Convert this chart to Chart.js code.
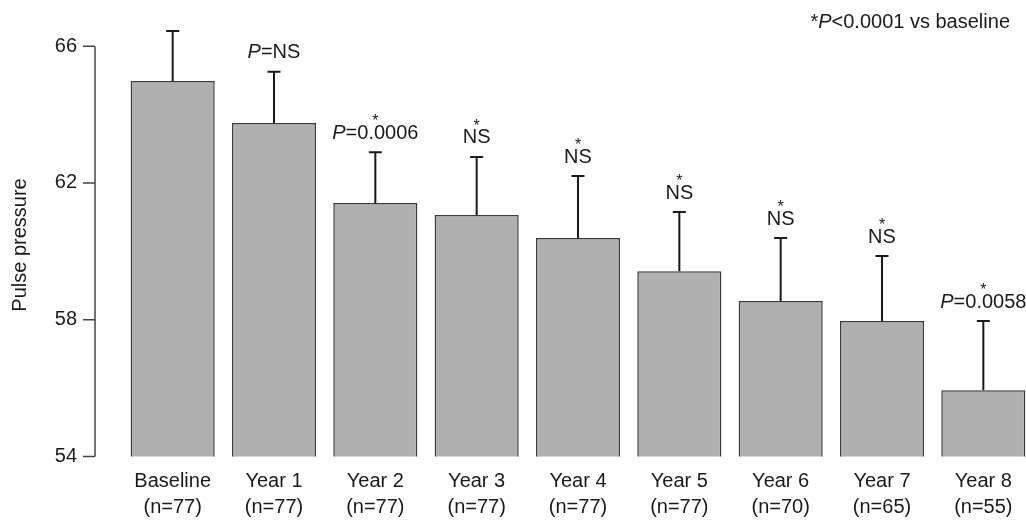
<!DOCTYPE html>
<html>
<head>
<meta charset="utf-8">
<script src="https://cdn.jsdelivr.net/npm/chart.js@4"></script>
<style>
  html, body { margin: 0; padding: 0; overflow: hidden; background: #fff; }
  canvas { display: block; }
</style>
</head>
<body>
<canvas id="pulseChart" width="1034" height="521" style="width:1034px;height:521px"></canvas>
<script>
// data
const groups = ["Baseline", "Year 1", "Year 2", "Year 3", "Year 4", "Year 5", "Year 6", "Year 7", "Year 8"];
const counts = ["(n=77)", "(n=77)", "(n=77)", "(n=77)", "(n=77)", "(n=77)", "(n=70)", "(n=65)", "(n=55)"];
const meanPP = [64.98, 63.75, 61.41, 61.06, 60.39, 59.42, 58.55, 57.96, 55.94];
const errPP = [1.46, 1.50, 1.49, 1.70, 1.81, 1.73, 1.84, 1.90, 2.02];
const pText = ["", "P=NS", "P=0.0006", "NS", "NS", "NS", "NS", "NS", "P=0.0058"];
const starred = [false, false, true, true, true, true, true, true, true];
const yTicks = [54, 58, 62, 66];

const FONT = "'Liberation Sans', Arial, sans-serif";
const INK = "#1a1a1a";

// draw "P=..." with an italic P
function drawPLabel(ctx, str, cx, cy) {
  ctx.textBaseline = "middle";
  ctx.textAlign = "left";
  let italic = "", rest = str;
  if (str.startsWith("P")) { italic = "P"; rest = str.slice(1); }
  ctx.font = "italic 20px " + FONT;
  const w1 = ctx.measureText(italic).width;
  ctx.font = "20px " + FONT;
  const w2 = ctx.measureText(rest).width;
  let x = cx - (w1 + w2) / 2;
  ctx.font = "italic 20px " + FONT;
  ctx.fillText(italic, x, cy);
  ctx.font = "20px " + FONT;
  ctx.fillText(rest, x + w1, cy);
}

const extras = {
  id: "extras",
  afterDatasetsDraw(chart) {
    const ctx = chart.ctx;
    const y = chart.scales.y;
    const meta = chart.getDatasetMeta(0);
    ctx.save();
    ctx.fillStyle = INK;
    ctx.strokeStyle = INK;
    // error bars + p labels
    meta.data.forEach((bar, i) => {
      const top = y.getPixelForValue(meanPP[i] + errPP[i]);
      const base = y.getPixelForValue(meanPP[i]);
      ctx.lineWidth = 2;
      ctx.beginPath();
      ctx.moveTo(bar.x, base);
      ctx.lineTo(bar.x, top);
      ctx.moveTo(bar.x - 6.5, top);
      ctx.lineTo(bar.x + 6.5, top);
      ctx.stroke();
      if (pText[i]) {
        const ty = top - 19;
        drawPLabel(ctx, pText[i], bar.x, ty);
        if (starred[i]) {
          ctx.font = "16px " + FONT;
          ctx.textAlign = "center";
          ctx.textBaseline = "alphabetic";
          ctx.fillText("*", bar.x, ty - 7);
        }
      }
    });
    // y axis line, tick marks and labels
    const axX = 95;
    ctx.strokeStyle = "#444";
    ctx.lineWidth = 1.5;
    ctx.beginPath();
    ctx.moveTo(axX, y.getPixelForValue(yTicks[0]));
    ctx.lineTo(axX, y.getPixelForValue(yTicks[yTicks.length - 1]));
    yTicks.forEach(t => {
      const py = y.getPixelForValue(t);
      ctx.moveTo(83, py);
      ctx.lineTo(axX, py);
    });
    ctx.stroke();
    ctx.font = "20px " + FONT;
    ctx.textAlign = "right";
    ctx.textBaseline = "middle";
    yTicks.forEach(t => {
      ctx.fillText(String(t), 77, y.getPixelForValue(t));
    });
    // y title
    ctx.save();
    ctx.translate(20, 245);
    ctx.rotate(-Math.PI / 2);
    ctx.font = "20px " + FONT;
    ctx.textAlign = "center";
    ctx.textBaseline = "middle";
    ctx.fillText("Pulse pressure", 0, 0);
    ctx.restore();
    // note top right
    ctx.textBaseline = "middle";
    ctx.textAlign = "left";
    ctx.font = "20px " + FONT;
    const partA = "*", partC = "<0.0001 vs baseline";
    const wA = ctx.measureText(partA).width;
    const wC = ctx.measureText(partC).width;
    ctx.font = "italic 20px " + FONT;
    const wB = ctx.measureText("P").width;
    let nx = 1010 - (wA + wB + wC);
    ctx.font = "20px " + FONT;
    ctx.fillText(partA, nx, 22);
    ctx.font = "italic 20px " + FONT;
    ctx.fillText("P", nx + wA, 22);
    ctx.font = "20px " + FONT;
    ctx.fillText(partC, nx + wA + wB, 22);
    ctx.restore();
  }
};

const ctx = document.getElementById("pulseChart");
new Chart(ctx, {
  type: "bar",
  data: {
    labels: groups.map((g, i) => [g, counts[i]]),
    datasets: [
      {
        label: "Pulse pressure",
        data: meanPP,
        backgroundColor: "#b0b0b0",
        borderColor: "#3a3a3a",
        borderWidth: 1.5,
        borderSkipped: false,
        barPercentage: 0.83,
        categoryPercentage: 1.0,
      },
    ],
  },
  options: {
    responsive: false,
    animation: false,
    layout: { padding: 0 },
    plugins: {
      legend: { display: false },
      tooltip: { enabled: false },
    },
    scales: {
      x: {
        grid: { display: false, drawTicks: false },
        border: { display: false },
        ticks: {
          color: INK,
          padding: 12,
          font: { family: FONT, size: 20, lineHeight: 1.3 },
        },
        afterFit(scale) { scale.height = 64.5; },
      },
      y: {
        min: 54,
        max: 67.35,
        grid: { display: false, drawTicks: false },
        border: { display: false },
        afterBuildTicks(scale) { scale.ticks = yTicks.map(v => ({ value: v })); },
        ticks: { display: false },
        afterFit(scale) { scale.width = 122; },
      },
    },
  },
  plugins: [extras],
});
</script>
</body>
</html>
